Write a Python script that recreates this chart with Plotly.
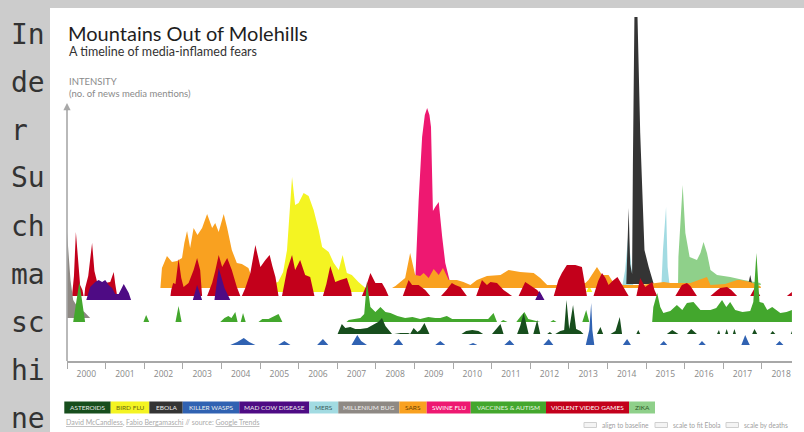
import plotly.graph_objects as go

# ------------------------------------------------------------------ data
year_ticks = list(range(2000, 2019))
year_labels = [str(y) for y in year_ticks]

categories = ["ASTEROIDS", "BIRD FLU", "EBOLA", "KILLER WASPS", "MAD COW DISEASE", "MERS",
              "MILLENIUM BUG", "SARS", "SWINE FLU", "VACCINES & AUTISM", "VIOLENT VIDEO GAMES", "ZIKA"]

millennium_years = [2000.00, 2000.09, 2000.16, 2000.29, 2000.45, 2000.60]
millennium_vals = [86, 38, 18, 10, 6, 0]

vaccines_years = [2000.16, 2000.32, 2000.47,
                  2001.98, 2002.05, 2002.13, 2002.81, 2002.89, 2002.97,
                  2003.97, 2004.08, 2004.18, 2004.26, 2004.36, 2004.42, 2004.50, 2004.56, 2004.63,
                  2004.96, 2005.06, 2005.22, 2005.34, 2005.48, 2005.58,
                  2007.24, 2007.30, 2007.42, 2007.60, 2007.70, 2007.77, 2007.86, 2007.99, 2008.12, 2008.25,
                  2008.38, 2008.56, 2008.76, 2008.95, 2009.15, 2009.36, 2009.54, 2009.67, 2009.84, 2009.98,
                  2010.19, 2010.45, 2010.71, 2010.91, 2011.05, 2011.14,
                  2011.23, 2011.30, 2011.41, 2011.64, 2011.74, 2011.85, 2011.95, 2012.08, 2012.26,
                  2012.52, 2012.60, 2012.68, 2013.35, 2013.45, 2013.53,
                  2015.16, 2015.19, 2015.29, 2015.37, 2015.45, 2015.63, 2015.80, 2015.94, 2016.06, 2016.23,
                  2016.41, 2016.67, 2016.82, 2016.97, 2017.08, 2017.18, 2017.31, 2017.50, 2017.70, 2017.78,
                  2017.86, 2017.94, 2018.04, 2018.14, 2018.27, 2018.48, 2018.64, 2018.78]
vaccines_vals = [0, 40, 0,
                 0, 7, 0, 0, 16, 0,
                 0, 4, 6, 4, 10, 0, 0, 9, 0,
                 0, 3, 3, 5, 8, 0,
                 0, 2, 3, 4, 8, 40, 15, 10, 15, 10,
                 9, 6, 4, 5, 3, 5, 4, 4, 6, 3,
                 3, 3, 3, 3, 9, 0,
                 0, 2, 0, 0, 5, 10, 3, 2, 0,
                 0, 2, 0, 0, 12, 0,
                 0, 15, 29, 15, 9, 11, 17, 12, 19, 20,
                 12, 12, 14, 22, 15, 20, 12, 10, 11, 20,
                 69, 20, 19, 12, 15, 9, 10, 12]

asteroids_years = [2007.01, 2007.03, 2007.12, 2007.21, 2007.34, 2007.47, 2007.60, 2007.78, 2007.94, 2008.06,
                   2008.16, 2008.25, 2008.42, 2008.48, 2008.64, 2008.84, 2008.89, 2008.98, 2009.08, 2009.15,
                   2009.26, 2009.39, 2010.22, 2010.34, 2010.50, 2010.66, 2010.78, 2011.01, 2011.12, 2011.23,
                   2011.31, 2011.66, 2011.74, 2011.83, 2011.96, 2012.08, 2012.18, 2012.26, 2012.44, 2012.51,
                   2012.57, 2012.65, 2012.78, 2012.88, 2012.94, 2013.01, 2013.11, 2013.19, 2013.30, 2013.38,
                   2013.73, 2013.82, 2013.89, 2014.08, 2014.21, 2014.32, 2014.38, 2014.75, 2014.80, 2014.85,
                   2015.54, 2015.68, 2015.84, 2016.06, 2016.17, 2016.32, 2016.84, 2016.89, 2016.92, 2017.05,
                   2017.09, 2017.13, 2017.25, 2017.29, 2017.33, 2017.75, 2017.81, 2017.88, 2018.22, 2018.28,
                   2018.35, 2018.75, 2018.78]
asteroids_vals = [0, 2, 10, 6, 7, 5, 5, 6, 9, 12,
                  16, 8, 0, 0, 1, 1, 0, 6, 2, 4,
                  11, 0, 0, 3, 4, 3, 0, 0, 5, 10,
                  0, 0, 8, 21, 0, 0, 14, 0, 0, 2,
                  0, 0, 3, 4, 34, 5, 29, 5, 3, 0,
                  0, 7, 0, 0, 3, 17, 0, 0, 4, 0,
                  0, 4, 0, 0, 5, 0, 0, 4, 0, 0,
                  5, 0, 0, 5, 0, 0, 5, 0, 0, 3,
                  0, 0, 3]

wasps_years = [2004.23, 2004.41, 2004.58, 2004.72, 2004.88, 2005.47, 2005.63, 2005.79,
               2006.48, 2006.63, 2006.77, 2007.37, 2007.52, 2007.62, 2007.77,
               2008.45, 2008.59, 2008.71, 2009.54, 2009.67, 2009.80, 2010.40, 2010.52, 2010.63,
               2011.33, 2011.47, 2011.59, 2012.34, 2012.48, 2012.60,
               2013.44, 2013.53, 2013.58, 2013.61, 2013.66, 2014.40, 2014.51, 2014.61,
               2015.36, 2015.46, 2015.55, 2016.36, 2016.45, 2016.55,
               2017.47, 2017.57, 2017.65, 2017.69, 2018.36, 2018.46, 2018.56]
wasps_vals = [0, 3, 7, 3, 0, 0, 4, 0,
              0, 6, 0, 0, 10, 4, 0,
              0, 6, 0, 0, 4, 0, 0, 2, 0,
              0, 5, 0, 0, 6, 0,
              0, 15, 42, 15, 0, 0, 6, 0,
              0, 4, 0, 0, 4, 0,
              0, 10, 3, 0, 0, 4, 0]

videogames_years = [2000.13, 2000.18, 2000.23, 2000.29, 2000.34, 2000.40, 2000.43,
                    2000.45, 2000.47, 2000.55, 2000.65, 2000.71, 2000.78, 2000.86, 2000.99, 2001.12, 2001.21,
                    2001.25, 2001.30,
                    2002.68, 2002.70, 2002.75, 2002.81, 2002.89, 2002.96, 2003.02, 2003.15, 2003.28, 2003.37,
                    2003.45, 2003.50,
                    2003.63, 2003.76, 2003.84, 2003.93, 2004.02, 2004.15, 2004.27, 2004.40, 2004.49,
                    2004.53, 2004.62, 2004.75, 2004.88, 2005.01, 2005.14, 2005.25, 2005.32, 2005.40, 2005.48,
                    2005.57, 2005.63, 2005.70, 2005.83, 2005.91, 2006.04, 2006.17, 2006.30, 2006.41,
                    2006.63, 2006.72, 2006.82, 2006.95, 2007.08, 2007.25, 2007.36, 2007.38,
                    2007.64, 2007.75, 2007.86, 2007.99, 2008.16, 2008.25, 2008.33,
                    2008.70, 2008.85, 2008.94, 2009.11, 2009.28, 2009.41,
                    2009.69, 2009.83, 2009.97, 2010.06, 2010.19, 2010.36,
                    2010.60, 2010.75, 2010.88, 2010.97, 2011.14, 2011.31, 2011.53,
                    2011.70, 2011.87, 2011.95, 2012.09, 2012.18, 2012.31,
                    2012.61, 2012.73, 2012.82, 2012.95, 2013.17, 2013.34, 2013.40, 2013.47,
                    2013.64, 2013.76, 2013.86, 2013.95, 2014.03, 2014.13, 2014.26, 2014.39, 2014.55,
                    2014.75, 2014.80, 2014.85, 2014.98, 2015.16, 2015.22, 2015.29,
                    2015.76, 2015.93, 2016.06, 2016.15, 2016.32,
                    2016.67, 2016.82, 2016.92, 2017.10, 2017.21, 2017.36,
                    2017.70, 2017.83, 2017.96, 2018.65, 2018.78]
videogames_vals = [0, 20, 64, 30, 11, 6, 0,
                   0, 8, 20, 53, 25, 14, 13, 13, 14, 24,
                   12, 0,
                   0, 6, 13, 12, 37, 18, 9, 13, 26, 38,
                   26, 0,
                   0, 13, 25, 41, 29, 38, 26, 9, 0,
                   0, 8, 23, 51, 29, 36, 41, 30, 19, 0,
                   0, 12, 26, 41, 26, 36, 21, 19, 0,
                   0, 12, 30, 14, 16, 18, 5, 0,
                   0, 10, 23, 13, 13, 7, 0,
                   0, 16, 11, 11, 6, 0,
                   0, 6, 13, 11, 9, 0,
                   0, 16, 11, 14, 13, 6, 0,
                   0, 14, 12, 8, 6, 0,
                   0, 16, 23, 31, 31, 29, 15, 0,
                   0, 15, 23, 18, 11, 15, 19, 10, 0,
                   0, 10, 18, 9, 14, 6, 0,
                   0, 11, 13, 10, 0,
                   0, 5, 8, 9, 6, 0,
                   0, 9, 0, 0, 4]

madcow_years = [2000.50, 2000.60, 2000.73, 2000.82, 2000.91, 2000.99, 2001.08, 2001.17, 2001.25, 2001.34,
                2001.47, 2001.60, 2001.66, 2003.26, 2003.37, 2003.50, 2003.82, 2003.93, 2004.08, 2004.23,
                2012.13, 2012.24, 2012.37]
madcow_vals = [0, 13, 18, 20, 18, 20, 15, 12, 6, 6,
               16, 7, 0, 0, 15, 0, 0, 32, 12, 0,
               0, 9, 0]

sars_years = [2002.42, 2002.46, 2002.59, 2002.72, 2002.85, 2002.98, 2003.04, 2003.11, 2003.19, 2003.28,
              2003.38, 2003.50, 2003.63, 2003.76, 2003.84, 2003.93, 2004.06, 2004.15, 2004.27, 2004.40,
              2004.53, 2004.70, 2004.83, 2004.96, 2005.06,
              2008.42, 2008.51, 2008.64, 2008.76, 2008.89, 2009.02, 2009.15, 2009.24, 2009.37, 2009.50,
              2009.63, 2009.74, 2009.89, 2010.10, 2010.27, 2010.45, 2010.62, 2010.88, 2011.23, 2011.44,
              2011.74, 2012.09, 2012.26, 2012.44, 2012.68, 2012.91, 2013.43, 2013.51, 2013.73, 2013.86,
              2014.03, 2014.16, 2014.42, 2014.85, 2015.46, 2015.63, 2016.15, 2016.49, 2016.58, 2016.67,
              2017.05, 2017.36, 2017.44, 2017.70, 2017.96, 2017.98]
sars_vals = [0, 20, 32, 26, 27, 30, 45, 57, 40, 60,
             53, 60, 74, 60, 65, 56, 74, 60, 38, 25,
             24, 20, 6, 2, 0,
             0, 2, 6, 10, 35, 13, 12, 15, 10, 19,
             13, 20, 8, 8, 6, 3, 8, 12, 13, 18,
             16, 15, 10, 3, 3, 5, 5, 8, 21, 13,
             13, 5, 3, 3, 6, 5, 5, 10, 11, 3,
             4, 8, 8, 6, 2, 0]

birdflu_years = [2004.96, 2005.06, 2005.27, 2005.47, 2005.60, 2005.70, 2005.83, 2005.91, 2006.00, 2006.13,
                 2006.26, 2006.39, 2006.52, 2006.61, 2006.78, 2006.91, 2007.04, 2007.14, 2007.25, 2007.38,
                 2007.55, 2007.73, 2007.81, 2013.45, 2013.53, 2013.61]
birdflu_vals = [0, 4, 8, 10, 20, 42, 115, 87, 89, 99,
                96, 82, 62, 45, 40, 29, 22, 37, 19, 17,
                10, 4, 0, 0, 6, 0]

swineflu_years = [2009.02, 2009.06, 2009.11, 2009.20, 2009.27, 2009.33, 2009.39, 2009.43, 2009.48, 2009.54,
                  2009.63, 2009.72, 2009.80, 2009.89, 2009.93]
swineflu_vals = [0, 40, 83, 146, 168, 175, 168, 156, 72, 76,
                 81, 46, 20, 6, 0]

ebola_years = [2014.49, 2014.55, 2014.59, 2014.64, 2014.66, 2014.70, 2014.78, 2014.85, 2014.96, 2015.07,
               2015.20, 2017.65, 2017.70, 2017.75]
ebola_vals = [0, 76, 20, 10, 118, 267, 267, 151, 34, 17,
              0, 0, 9, 0]

mers_years = [2014.39, 2014.46, 2014.54, 2014.59, 2014.65, 2014.67,
              2015.40, 2015.44, 2015.52, 2015.54, 2015.56, 2015.61]
mers_vals = [0, 15, 50, 30, 5, 0,
             0, 35, 78, 52, 18, 0]

zika_years = [2015.83, 2015.84, 2015.95, 2016.02, 2016.13, 2016.32, 2016.41, 2016.49, 2016.58, 2016.67,
              2016.84, 2017.18, 2017.53, 2017.96, 2017.98]
zika_vals = [0, 28, 100, 52, 28, 25, 32, 43, 32, 15,
             10, 8, 5, 2, 0]

# ------------------------------------------------------------------ styles / layout
W, H = 804, 432
X0, X1 = 67, 792          # plot area in px
Y_AX = 361                # x-axis line (px from top)
PX_PER_YEAR = 38.6

series = [  # (name, years, vals, colour, baseline offset)
    ("ZIKA", zika_years, zika_vals, "#8fd08a", 76),
    ("MERS", mers_years, mers_vals, "#a2dbe2", 76),
    ("EBOLA", ebola_years, ebola_vals, "#343434", 77),
    ("SWINE FLU", swineflu_years, swineflu_vals, "#ee1871", 78),
    ("BIRD FLU", birdflu_years, birdflu_vals, "#f4f422", 69),
    ("SARS", sars_years, sars_vals, "#f9a120", 73),
    ("VIOLENT VIDEO GAMES", videogames_years, videogames_vals, "#c3001b", 65),
    ("MAD COW DISEASE", madcow_years, madcow_vals, "#4e0b84", 61),
    ("MILLENIUM BUG", millennium_years, millennium_vals, "#8e8984", 43),
    ("VACCINES & AUTISM", vaccines_years, vaccines_vals, "#43a72d", 39),
    ("ASTEROIDS", asteroids_years, asteroids_vals, "#174e1d", 27),
    ("KILLER WASPS", wasps_years, wasps_vals, "#3062b2", 16),
]

legend_colors = ["#174e1d", "#f4f422", "#343434", "#3062b2", "#4e0b84", "#a2dbe2",
                 "#8e8984", "#f9a120", "#ee1871", "#43a72d", "#c3001b", "#8fd08a"]
legend_text_colors = ["#e8e8e8", "#6b6b10", "#eeeeee", "#eeeeee", "#eeeeee", "#3d5d60",
                      "#eeeeee", "#6a4200", "#ffffff", "#e8f5e0", "#ffffff", "#2f5a2b"]
legend_edges = [64.3, 110.7, 149.3, 182.7, 239.3, 309.3, 338.3, 399.3, 426.7, 470.7, 546, 629, 655]

FONT = "Lato, 'Open Sans', sans-serif"


def px(x):
    return x / W


def py(y):
    return 1 - y / H


fig = go.Figure()

for name, xs, vs, col, base in series:
    xx = [xs[0]] + list(xs) + [xs[-1]]
    yy = [base] + [base + v for v in vs] + [base]
    fig.add_trace(go.Scatter(x=xx, y=yy, mode="lines", fill="toself", fillcolor=col,
                             line=dict(width=0, color=col), hoverinfo="skip", showlegend=False,
                             name=name))

shapes = []
annotations = []

# white card
shapes.append(dict(type="rect", xref="paper", yref="paper", x0=px(50), x1=px(806), y0=py(434), y1=py(8),
                   fillcolor="white", line=dict(width=0), layer="below"))
# y axis line
shapes.append(dict(type="line", xref="paper", yref="paper", x0=px(67), x1=px(67), y0=py(Y_AX), y1=py(108),
                   line=dict(color="#a8a8a8", width=1.6), layer="above"))
annotations.append(dict(xref="paper", yref="paper", x=px(67), y=py(103), ax=0, ay=9,
                        text="", showarrow=True, arrowhead=2,
                        arrowsize=1.2, arrowwidth=1.2, arrowcolor="#a8a8a8"))

# left column text
for i, t in enumerate(["In", "de", "r", "Su", "ch", "ma", "sc", "hi", "ne"]):
    annotations.append(dict(xref="paper", yref="paper", x=px(9), y=py(34 + 48 * i), text=t,
                            showarrow=False, xanchor="left", yanchor="middle",
                            font=dict(family="DejaVu Sans Mono", size=28, color="#333333")))

# titles
annotations.append(dict(xref="paper", yref="paper", x=px(66), y=py(33), text="Mountains Out of Molehills",
                        showarrow=False, xanchor="left", yanchor="middle",
                        font=dict(family=FONT, size=20, color="#1e1e1e")))
annotations.append(dict(xref="paper", yref="paper", x=px(67), y=py(51), text="A timeline of media-inflamed fears",
                        showarrow=False, xanchor="left", yanchor="middle",
                        font=dict(family=FONT, size=12.5, color="#333333")))
annotations.append(dict(xref="paper", yref="paper", x=px(67), y=py(81), text="INTENSITY",
                        showarrow=False, xanchor="left", yanchor="middle",
                        font=dict(family=FONT, size=9.5, color="#8a8a8a")))
annotations.append(dict(xref="paper", yref="paper", x=px(67), y=py(94), text="(no. of news media mentions)",
                        showarrow=False, xanchor="left", yanchor="middle",
                        font=dict(family=FONT, size=9.5, color="#8a8a8a")))

# legend boxes
for i, cat in enumerate(categories):
    xa, xb = legend_edges[i], legend_edges[i + 1]
    shapes.append(dict(type="rect", xref="paper", yref="paper", x0=px(xa), x1=px(xb), y0=py(413.5), y1=py(401.5),
                       fillcolor=legend_colors[i], line=dict(width=0)))
    annotations.append(dict(xref="paper", yref="paper", x=px((xa + xb) / 2), y=py(407.5), text=cat,
                            showarrow=False, xanchor="center", yanchor="middle",
                            font=dict(family=FONT, size=6.5, color=legend_text_colors[i])))

# footer
annotations.append(dict(xref="paper", yref="paper", x=px(64), y=py(422.5),
                        text="<span style='text-decoration:underline'>David McCandless</span>, "
                             "<span style='text-decoration:underline'>Fabio Bergamaschi</span> // source: "
                             "<span style='text-decoration:underline'>Google Trends</span>",
                        showarrow=False, xanchor="left", yanchor="middle",
                        font=dict(family=FONT, size=7, color="#aaaaaa")))
for tx, label in [(584, "align to baseline"), (655, "scale to fit Ebola"), (726, "scale by deaths")]:
    shapes.append(dict(type="rect", xref="paper", yref="paper", x0=px(tx), x1=px(tx + 12.5),
                       y0=py(427.5), y1=py(422.5), fillcolor="#f4f4f4", line=dict(color="#cfcfcf", width=1)))
    annotations.append(dict(xref="paper", yref="paper", x=px(tx + 15.5), y=py(425), text=label,
                            showarrow=False, xanchor="left", yanchor="middle",
                            font=dict(family=FONT, size=6.6, color="#a0a0a0")))

fig.update_layout(
    width=W, height=H,
    margin=dict(l=0, r=0, t=0, b=0),
    paper_bgcolor="#cccccc",
    plot_bgcolor="rgba(0,0,0,0)",
    showlegend=False,
    shapes=shapes,
    annotations=annotations,
    xaxis=dict(domain=[X0 / W, X1 / W], range=[2000, 2000 + (X1 - X0) / PX_PER_YEAR],
               showgrid=False, zeroline=False, showline=True, linecolor="#a8a8a8", linewidth=1.5,
               tickvals=[y + 0.5 for y in year_ticks], ticktext=year_labels, ticks="",
               ticklabelstandoff=4,
               tickfont=dict(family="'Open Sans', sans-serif", size=8.5, color="#888888"),
               minor=dict(tickvals=year_ticks, ticks="outside", ticklen=6, tickwidth=1.3,
                          tickcolor="#a8a8a8", showgrid=False),
               fixedrange=True),
    yaxis=dict(domain=[1 - Y_AX / H, 1], range=[0, Y_AX], visible=False, fixedrange=True),
)

fig.write_html("out.html", config={"displayModeBar": False},
               post_script="document.body.style.margin='0';document.body.style.overflow='hidden';")
